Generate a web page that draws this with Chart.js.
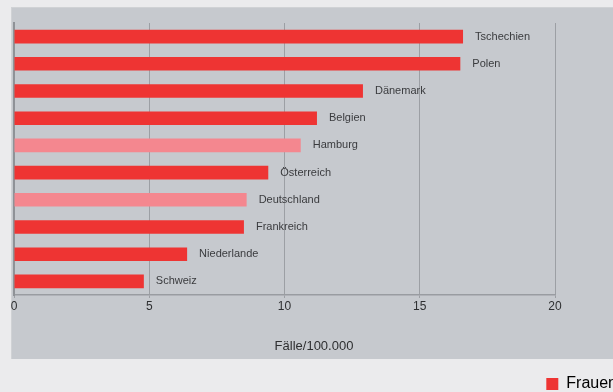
<!DOCTYPE html>
<html>
<head>
<meta charset="utf-8">
<script src="https://cdn.jsdelivr.net/npm/chart.js@4"></script>
<style>
  html, body { margin: 0; padding: 0; background: #ebebed; overflow: hidden; width: 613px; height: 392px; }
  #panel { position: absolute; left: 11px; top: 7px; width: 606px; height: 352px; background: #c6c9ce;
           border-top: 1px solid #d0d2d5; border-left: 1px solid #d0d2d5; box-sizing: border-box; }
  #chart { position: absolute; left: 0; top: 0; }
</style>
</head>
<body>
<div id="panel"></div>
<canvas id="chart" width="620" height="402"></canvas>
<script>
// Erkrankungsrate je Land, Fälle pro 100.000 Frauen
const countries = ['Tschechien', 'Polen', 'Dänemark', 'Belgien', 'Hamburg', 'Österreich',
                   'Deutschland', 'Frankreich', 'Niederlande', 'Schweiz'];
const rates = [16.6, 16.5, 12.9, 11.2, 10.6, 9.4, 8.6, 8.5, 6.4, 4.8];
const highlighted = ['Hamburg', 'Deutschland'];
const xTicks = [0, 5, 10, 15, 20];
const seriesName = 'Frauen';
const axisCaptionText = 'Fälle/100.000';

const RED = '#ee3433';
const PINK = '#f4878f';
const FONT = '"Liberation Sans", Arial, Helvetica, sans-serif';
const PANEL_LEFT = 11, PANEL_RIGHT = 617;

// Ländernamen rechts neben den Balken
const barLabels = {
  id: 'barLabels',
  afterDatasetsDraw(chart) {
    const ctx = chart.ctx;
    const meta = chart.getDatasetMeta(0);
    ctx.save();
    ctx.font = '11px ' + FONT;
    ctx.fillStyle = '#3a3b3e';
    ctx.textAlign = 'left';
    ctx.textBaseline = 'middle';
    meta.data.forEach((bar, i) => ctx.fillText(countries[i], bar.x + 12, bar.y));
    ctx.restore();
  }
};

// Achsenbeschriftung, mittig unter der Fläche
const axisCaption = {
  id: 'axisCaption',
  afterDraw(chart) {
    const ctx = chart.ctx;
    const xs = chart.scales.x;
    ctx.save();
    ctx.font = '13px ' + FONT;
    ctx.fillStyle = '#2e2f31';
    ctx.textAlign = 'center';
    ctx.textBaseline = 'middle';
    ctx.fillText(axisCaptionText, (PANEL_LEFT + PANEL_RIGHT) / 2, xs.top + 51);
    ctx.restore();
  }
};

new Chart(document.getElementById('chart'), {
  type: 'bar',
  data: {
    labels: countries,
    datasets: [{
      label: seriesName,
      data: rates,
      backgroundColor: countries.map(c => highlighted.includes(c) ? PINK : RED),
      borderWidth: 0,
      barPercentage: 0.5,
      categoryPercentage: 1.0
    }]
  },
  options: {
    indexAxis: 'y',
    responsive: false,
    animation: false,
    devicePixelRatio: 1,
    layout: { padding: { left: 14, top: 23, right: 0, bottom: 0 } },
    plugins: {
      tooltip: { enabled: false },
      legend: {
        display: true,
        position: 'bottom',
        align: 'end',
        labels: {
          boxWidth: 12,
          boxHeight: 12,
          padding: 3,
          color: '#2e2f31',
          font: { family: FONT, size: 16 },
          generateLabels: (chart) => [{
            text: seriesName,
            fillStyle: RED,
            strokeStyle: RED,
            lineWidth: 0,
            hidden: false,
            datasetIndex: 0
          }]
        }
      }
    },
    scales: {
      x: {
        type: 'linear',
        position: 'bottom',
        min: 0,
        max: 20,
        afterBuildTicks: (s) => { s.ticks = xTicks.map(v => ({ value: v })); },
        afterFit: (s) => { s.height = 78; },
        grid: { color: '#9c9fa4', lineWidth: 1, tickLength: 3, drawTicks: true },
        border: { display: true, color: '#999ca1', width: 1.5 },
        ticks: { color: '#2e2f31', font: { family: FONT, size: 12 }, padding: 1, maxRotation: 0 }
      },
      y: {
        type: 'category',
        position: 'left',
        z: 1,
        grid: { display: false },
        ticks: { display: false },
        border: { display: true, color: '#8f9297', width: 2 },
        afterFit: (s) => { s.width = 0; }
      },
      spacer: {
        type: 'category',
        axis: 'y',
        position: 'right',
        display: true,
        grid: { display: false },
        ticks: { display: false },
        border: { display: false },
        afterFit: (s) => { s.width = 65; }
      }
    }
  },
  plugins: [barLabels, axisCaption]
});
</script>
</body>
</html>
